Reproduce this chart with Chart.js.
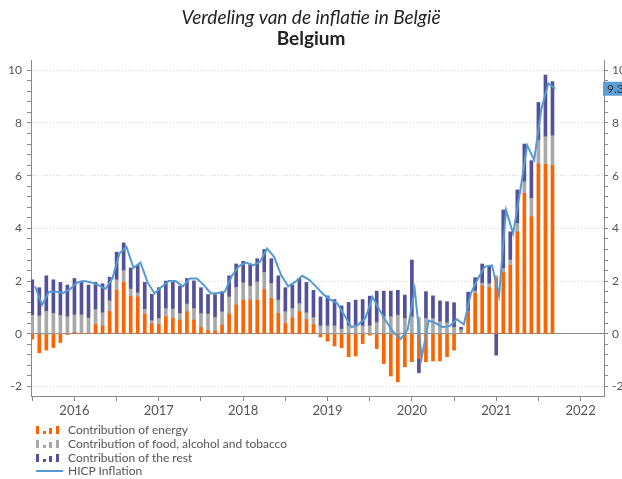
<!DOCTYPE html>
<html>
<head>
<meta charset="utf-8">
<script src="https://cdn.jsdelivr.net/npm/chart.js@4.4.1/dist/chart.umd.min.js"></script>
<style>
  body { margin: 0; background: #fff; }
  #wrap { position: relative; width: 622px; height: 479px; }
  #legend { position: absolute; left: 36px; top: 423px; font: 12px Lato, sans-serif; color: #555; }
  .row { display: flex; align-items: center; height: 13.7px; white-space: nowrap; }
  .ico { width: 27px; height: 9px; margin-right: 5px; display: flex; align-items: flex-end; }
  .ico i { display: block; width: 3px; margin-right: 3.7px; }
  .ico.line { align-items: center; }
  .ico.line i { width: 27px; height: 2px; margin: 0; }
</style>
</head>
<body>
<div id="wrap">
  <canvas id="chart"></canvas>
  <div id="legend"></div>
</div>
<script>
// monthly data, Jan 2016 .. Mar 2022
const years = ['2016', '2017', '2018', '2019', '2020', '2021', '2022'];

const energy = [
  -0.20, -0.72, -0.62, -0.52, -0.33, -0.03, 0.05, 0.02, 0.03, 0.35, 0.30, 0.85,
  1.65, 1.95, 1.42, 1.40, 0.75, 0.38, 0.35, 0.65, 0.58, 0.52, 0.84, 0.52,
  0.24, 0.13, 0.10, 0.33, 0.75, 1.09, 1.28, 1.28, 1.28, 1.68, 1.34, 0.77,
  0.39, 0.60, 0.84, 0.54, 0.35, -0.12, -0.28, -0.46, -0.53, -0.87, -0.84, -0.37,
  -0.05, -0.56, -1.13, -1.60, -1.82, -1.25, -1.06, -0.94, -1.06, -1.03, -1.03, -0.87,
  -0.62, 0.00, 0.84, 1.53, 1.82, 1.75, 2.10, 2.33, 2.60, 3.87, 5.33, 4.44,
  6.44, 6.43, 6.38
];
const food = [
  0.70, 0.68, 0.85, 0.77, 0.70, 0.65, 0.67, 0.70, 0.57, 0.57, 0.50, 0.40,
  0.40, 0.45, 0.28, 0.15, 0.18, 0.12, 0.23, 0.31, 0.36, 0.25, 0.29, 0.44,
  0.53, 0.62, 0.52, 0.51, 0.65, 0.67, 0.66, 0.53, 0.69, 0.65, 0.57, 0.51,
  0.45, 0.36, 0.31, 0.26, 0.27, 0.30, 0.30, 0.30, 0.18, 0.30, 0.30, 0.30,
  0.30, 0.43, 0.65, 0.65, 0.71, 0.58, 0.65, 0.62, 0.58, 0.58, 0.46, 0.42,
  0.24, 0.15, 0.02, 0.10, 0.10, 0.15, 0.10, 0.15, 0.20, 0.32, 0.44, 0.70,
  0.91, 1.05, 1.14
];
const rest = [
  1.35, 1.07, 1.35, 1.28, 1.25, 1.20, 1.38, 1.28, 1.25, 1.03, 1.10, 0.90,
  1.05, 1.05, 0.80, 1.05, 1.02, 1.00, 1.17, 1.04, 1.01, 1.04, 0.97, 1.05,
  0.98, 0.74, 0.87, 0.76, 0.80, 0.89, 0.81, 0.84, 0.88, 0.87, 0.94, 0.92,
  0.91, 0.89, 0.95, 1.15, 1.03, 1.10, 1.14, 1.00, 0.88, 0.89, 0.98, 1.00,
  1.13, 1.19, 0.97, 0.97, 0.94, 0.89, 2.15, -0.54, 1.02, 0.86, 0.79, 0.80,
  0.94, 0.10, 0.72, 0.50, 0.73, 0.70, -0.81, 2.22, 1.07, 1.27, 1.43, 1.43,
  1.43, 2.34, 2.05
];
const hicp = [
  1.80, 1.10, 1.60, 1.60, 1.55, 1.70, 1.95, 2.00, 1.95, 1.85, 1.70, 2.10,
  3.05, 3.30, 2.50, 2.70, 1.95, 1.53, 1.78, 2.00, 2.00, 1.80, 2.10, 2.10,
  1.85, 1.53, 1.55, 1.60, 2.20, 2.57, 2.70, 2.60, 2.73, 3.24, 2.92, 2.23,
  1.80, 1.97, 2.20, 2.05, 1.78, 1.50, 1.30, 1.15, 0.70, 0.25, 0.35, 0.60,
  1.40, 0.90, 0.45, 0.05, -0.20, 0.15, 1.70, -0.90, 0.50, 0.40, 0.25, 0.30,
  0.55, 0.35, 1.55, 2.10, 2.55, 2.60, 1.45, 4.70, 3.80, 5.40, 7.15, 6.60,
  8.50, 9.50, 9.30
];
const yLabels = [-2, 0, 2, 4, 6, 8, 10];

const orange = '#ff6200', grey = '#a8a8a8', indigo = '#525199', sky = '#559bd1';
const font = { family: 'Lato, sans-serif', size: 12 };

// minor ticks every 0.4, majors every 2
const yTicks = [];
for (let k = -5; k <= 25; k++) yTicks.push(+(k * 0.4).toFixed(1));
const isMajor = v => yLabels.includes(v);
// x ticks every half year, year label in the middle of the year
const xTicks = [];
for (let m = 0; m <= 78; m += 6) xTicks.push(m);

const pts = arr => arr.map((v, i) => ({ x: i, y: v }));
const bar = (label, arr, color) => ({
  type: 'bar', label, data: pts(arr), backgroundColor: color,
  barThickness: 3, order: 1, yAxisID: 'y'
});

const lastValueTag = {
  id: 'lastValueTag',
  afterDraw(chart) {
    const { ctx, chartArea, scales } = chart;
    const v = hicp[hicp.length - 1];
    const y = scales.y2.getPixelForValue(v);
    ctx.save();
    ctx.fillStyle = '#5b9fd6';
    ctx.fillRect(chartArea.right - 1, y - 7, 30, 14);
    ctx.fillStyle = '#333';
    ctx.font = '12px Lato, sans-serif';
    ctx.textBaseline = 'middle';
    ctx.fillText(v.toFixed(1), chartArea.right + 3, y + 0.5);
    ctx.restore();
  }
};

const yAxis = (position, width) => ({
  position, min: -2.36, max: 10.39,
  stacked: position === 'left',
  afterBuildTicks: s => { s.ticks = yTicks.map(v => ({ value: v })); },
  afterFit: s => { s.width = width; },
  border: {
    color: '#888',
    dash: c => (c.tick && c.tick.value !== 0 ? [1, 2] : [])
  },
  grid: {
    drawOnChartArea: position === 'left',
    color: c => (!c.tick || !isMajor(c.tick.value)) ? 'rgba(0,0,0,0)' : (c.tick.value === 0 ? '#8a8a8a' : '#d6d6d6'),
    tickLength: 4,
    tickColor: '#888'
  },
  ticks: {
    autoSkip: false, font, color: '#555', padding: position === 'left' ? 5 : 4,
    callback: v => isMajor(+v.toFixed(1)) ? String(+v.toFixed(1)) : ''
  }
});

new Chart(document.getElementById('chart'), {
  type: 'bar',
  data: {
    datasets: [
      bar('Contribution of energy', energy, orange),
      bar('Contribution of food, alcohol and tobacco', food, grey),
      bar('Contribution of the rest', rest, indigo),
      {
        type: 'line', label: 'HICP Inflation',
        data: hicp.map((v, i) => ({ x: i + 0.4, y: v })),
        borderColor: sky, borderWidth: 2, pointRadius: 0, tension: 0,
        order: 0, yAxisID: 'y2'
      }
    ]
  },
  options: {
    responsive: true,
    maintainAspectRatio: false,
    animation: false,
    devicePixelRatio: 1,
    layout: { padding: 0 },
    plugins: {
      legend: { display: false },
      tooltip: { enabled: false },
      title: {
        display: true, text: 'Verdeling van de inflatie in België', color: '#222',
        font: { family: 'Lato, sans-serif', size: 19, style: 'italic', weight: 'normal', lineHeight: 1 },
        padding: { top: 8.5, bottom: 0 }
      },
      subtitle: {
        display: true, text: 'Belgium', color: '#222',
        font: { family: 'Lato, sans-serif', size: 19, weight: 'bold', lineHeight: 1 },
        padding: { top: 2, bottom: 11.5 }
      }
    },
    scales: {
      x: {
        type: 'linear', min: -0.18, max: 81.33, stacked: true, offset: false,
        afterBuildTicks: s => { s.ticks = xTicks.map(v => ({ value: v })); },
        afterFit: s => { s.height = 83; },
        border: { color: '#888' },
        grid: { drawOnChartArea: false, offset: false, tickLength: 5, tickColor: '#888' },
        ticks: {
          autoSkip: false, maxRotation: 0, font: { family: 'Lato, sans-serif', size: 13 }, color: '#555', padding: 2,
          callback: v => (v % 12 === 6 ? years[(v - 6) / 12] : '')
        }
      },
      y: yAxis('left', 31),
      y2: yAxis('right', 18)
    }
  },
  plugins: [lastValueTag]
});

// legend, one entry per line
const legendItems = [
  { label: 'Contribution of energy', color: orange, kind: 'bar' },
  { label: 'Contribution of food, alcohol and tobacco', color: grey, kind: 'bar' },
  { label: 'Contribution of the rest', color: indigo, kind: 'bar' },
  { label: 'HICP Inflation', color: sky, kind: 'line' }
];
const legend = document.getElementById('legend');
legendItems.forEach(it => {
  const row = document.createElement('div');
  row.className = 'row';
  const ico = document.createElement('span');
  ico.className = 'ico' + (it.kind === 'line' ? ' line' : '');
  const hs = it.kind === 'line' ? [2] : [8, 3, 6, 8];
  hs.forEach(h => {
    const b = document.createElement('i');
    b.style.background = it.color;
    if (it.kind !== 'line') b.style.height = h + 'px';
    ico.appendChild(b);
  });
  row.appendChild(ico);
  row.appendChild(document.createTextNode(it.label));
  legend.appendChild(row);
});
</script>
</body>
</html>
